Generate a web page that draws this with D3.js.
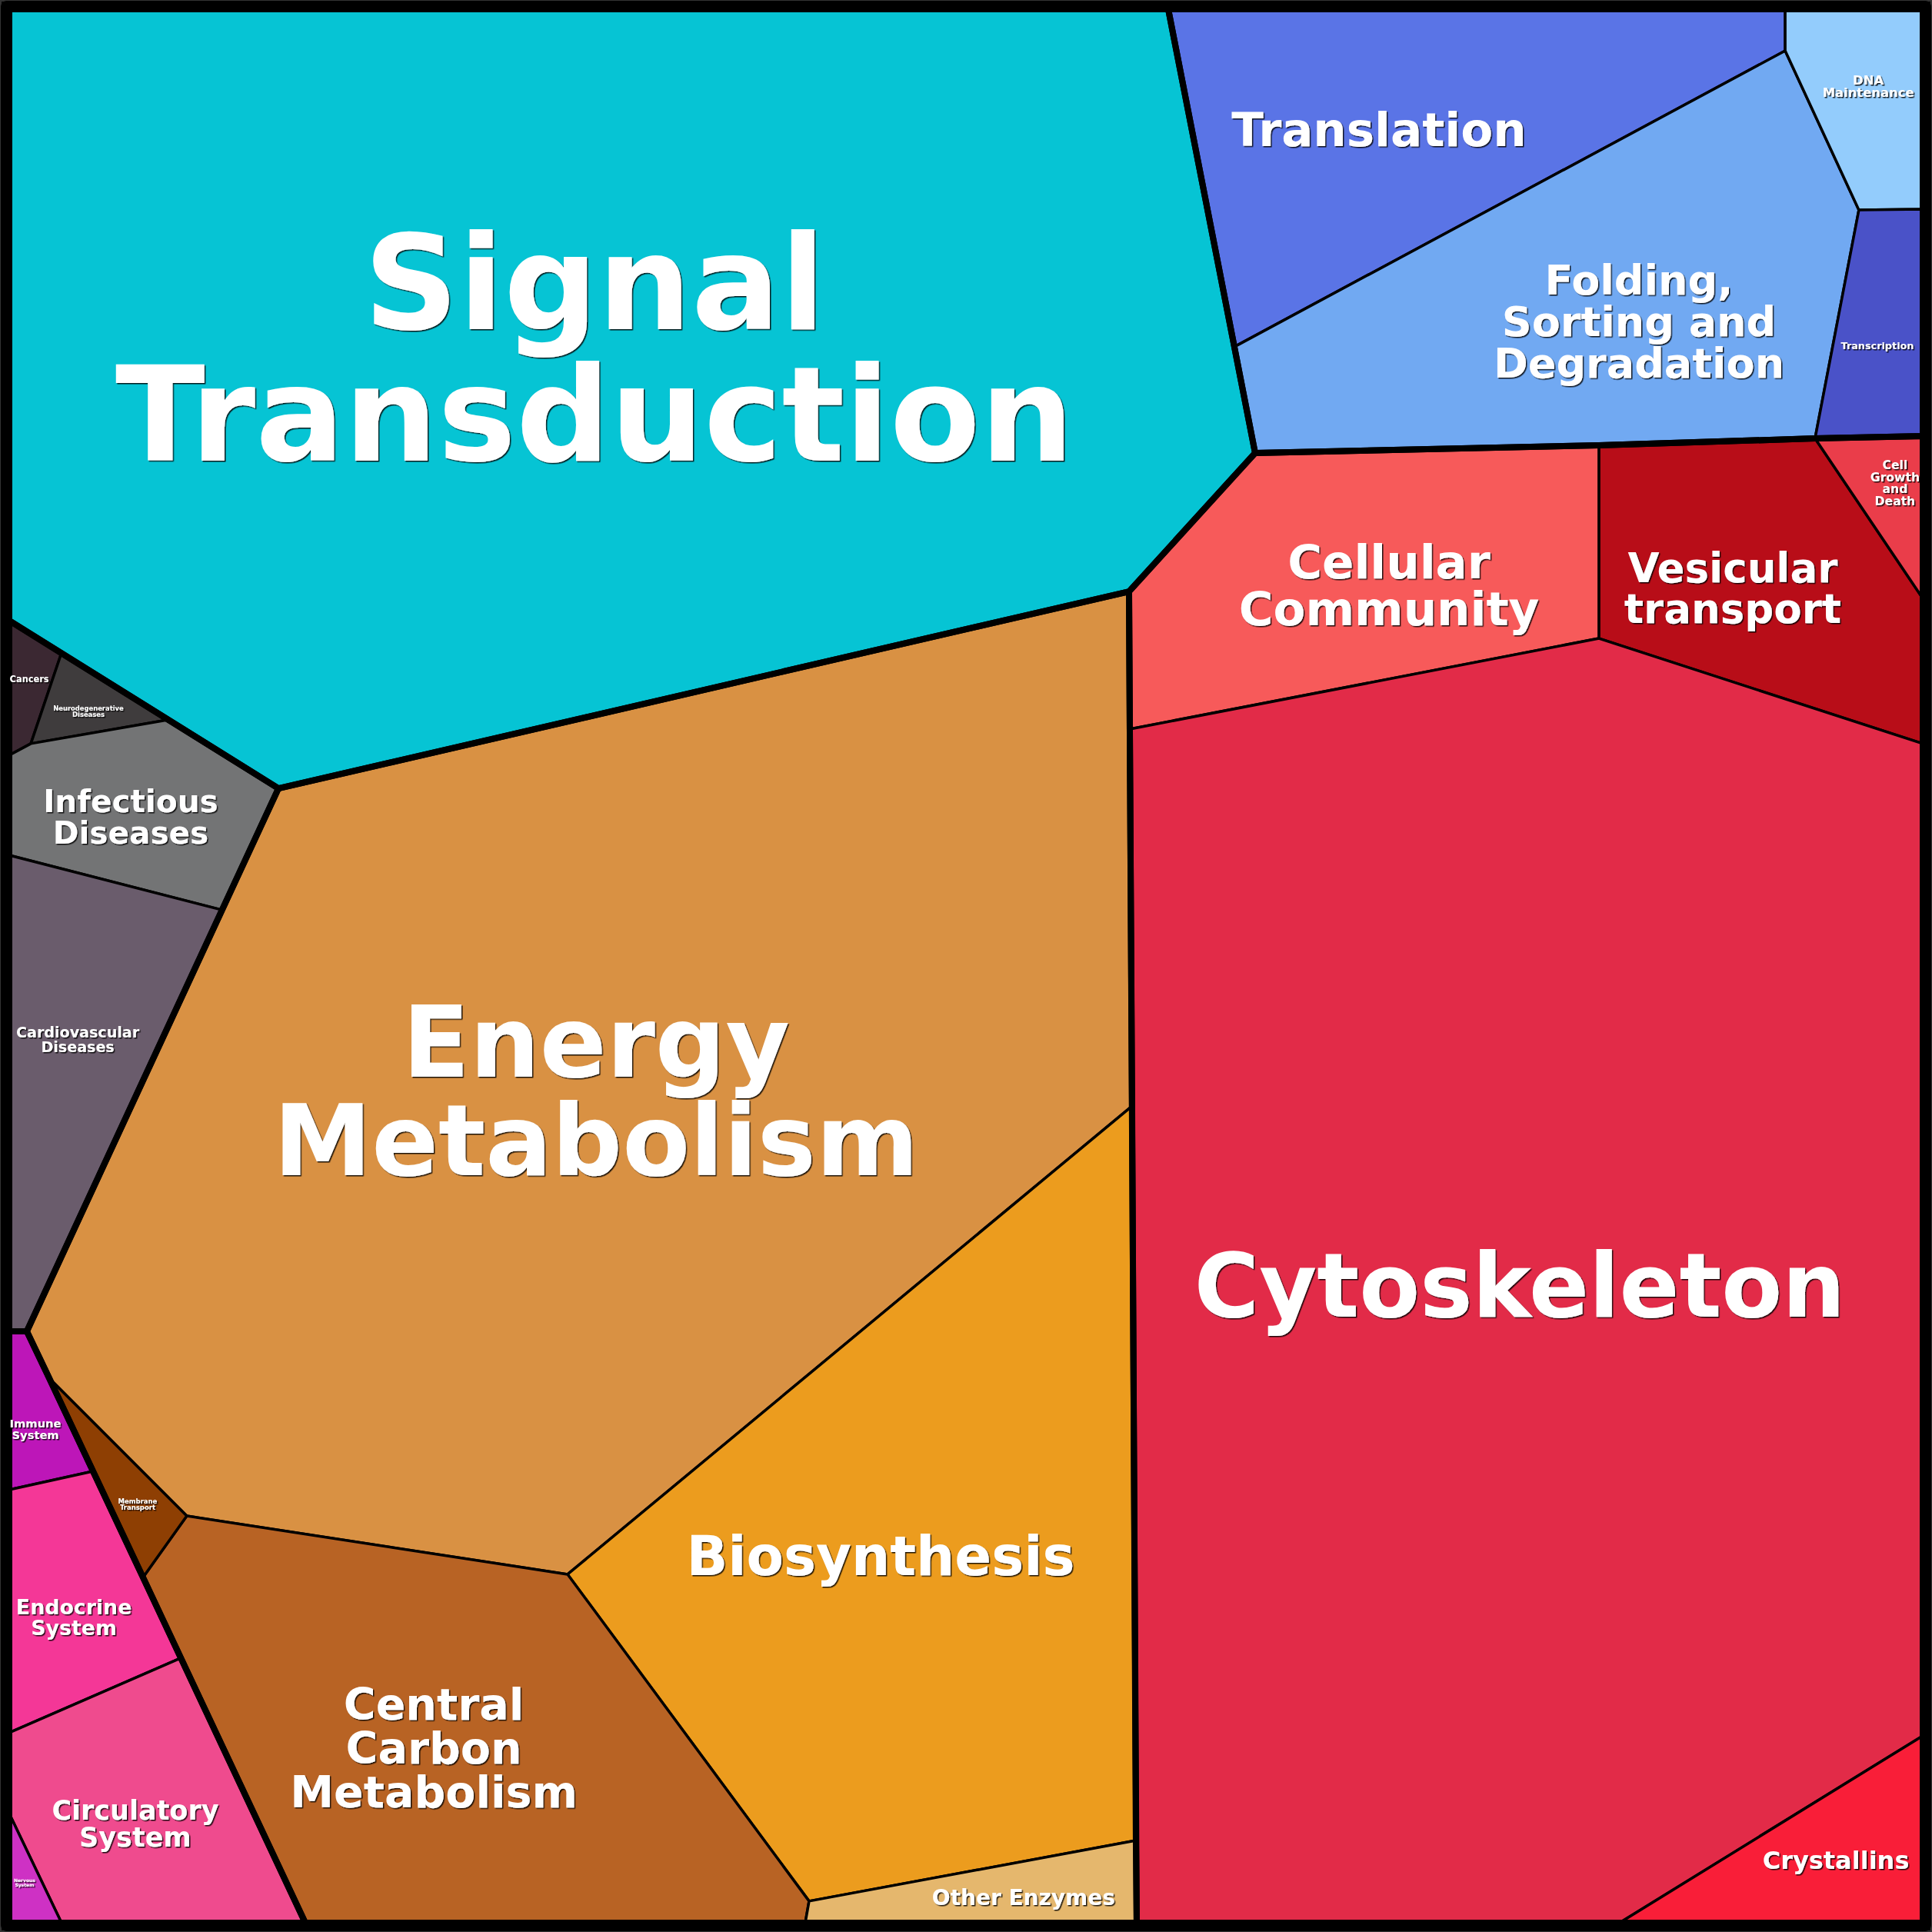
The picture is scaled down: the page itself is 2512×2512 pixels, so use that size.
<!DOCTYPE html>
<html>
<head>
<meta charset="utf-8">
<script src="https://cdn.jsdelivr.net/npm/d3@7"></script>
<style>
  html, body { margin: 0; padding: 0; background: #fff; }
</style>
</head>
<body>
<div id="chart"></div>
<script>
// voronoi treemap, layout computed offline; units are a 0-1000 square
var groups = ["Environmental", "Genetic", "Cellular", "Metabolism", "Diseases", "Organismal"];

var categories = [
  "Signal\nTransduction", "Translation", "Folding,\nSorting and\nDegradation", "DNA\nMaintenance", "Transcription",
  "Cellular\nCommunity", "Vesicular\ntransport", "Cell\nGrowth\nand\nDeath", "Cytoskeleton", "Crystallins",
  "Energy\nMetabolism", "Biosynthesis", "Central\nCarbon\nMetabolism", "Membrane\nTransport", "Other Enzymes",
  "Cancers", "Neurodegenerative\nDiseases", "Infectious\nDiseases", "Cardiovascular\nDiseases",
  "Immune\nSystem", "Endocrine\nSystem", "Circulatory\nSystem", "Nervous\nSystem"
];
var categoryGroup = [0, 1, 1, 1, 1, 2, 2, 2, 2, 2, 3, 3, 3, 3, 3, 4, 4, 4, 4, 5, 5, 5, 5];

// layout vertices [id, x, y]
var vertices = [
  ["TL", 0, 0], ["TR", 1000, 0], ["BR", 1000, 1000], ["BL", 0, 1000],
  ["s1", 605.7, 0], ["s2", 651.1, 231.9], ["s3", 585.2, 304.3], ["s4", 140.7, 407.2], ["s5", 0, 319.5],
  ["d1", 27.3, 336.4], ["d2", 11.3, 383.8], ["d3", 0, 389.9], ["d4", 82.8, 371.4],
  ["d5", 111.2, 470.7], ["d6", 0, 442.1], ["d7", 0, 690.9], ["e1", 9.2, 690.9],
  ["m1", 20.9, 715.4], ["m2", 92.8, 787.4], ["m3", 69.9, 819.5],
  ["e2", 291.8, 817.9], ["e3", 586.8, 573.2],
  ["o1", 418.0, 988.7], ["o2", 416.0, 1000], ["o3", 588.8, 957.0], ["o4", 589.2, 1000],
  ["p1", 154.7, 1000], ["p2", 43.7, 764.1], ["p3", 0, 773.7], ["p4", 89.6, 861.7],
  ["p5", 0, 900.7], ["p6", 0, 942.9], ["p7", 27.3, 1000],
  ["t1", 640.3, 176.4], ["t2", 928.1, 0], ["t3", 928.1, 21.7], ["t4", 966.6, 104.9],
  ["t5", 1000, 104.5], ["t6", 943.7, 224.3], ["t7", 1000, 223.1],
  ["r1", 830.8, 227.9], ["r2", 830.8, 328.8], ["r3", 585.6, 376.2], ["r4", 1000, 307.9],
  ["r5", 1000, 383.8], ["r6", 1000, 902.3], ["r7", 841.6, 1000]
];

var cellVertices = [
  ["TL", "s1", "s2", "s3", "s4", "s5"],
  ["s1", "t2", "t3", "t1"],
  ["t1", "t3", "t4", "t6", "s2"],
  ["t2", "TR", "t5", "t4", "t3"],
  ["t4", "t5", "t7", "t6"],
  ["s2", "r1", "r2", "r3", "s3"],
  ["r1", "t6", "r4", "r5", "r2"],
  ["t6", "t7", "r4"],
  ["r3", "r2", "r5", "r6", "r7", "o4"],
  ["r6", "BR", "r7"],
  ["s4", "s3", "e3", "e2", "m2", "m1", "e1"],
  ["e2", "e3", "o3", "o1"],
  ["m2", "e2", "o1", "o2", "p1", "m3"],
  ["m1", "m2", "m3"],
  ["o1", "o3", "o4", "o2"],
  ["s5", "d1", "d2", "d3"],
  ["d1", "d4", "d2"],
  ["d3", "d2", "d4", "s4", "d5", "d6"],
  ["d6", "d5", "e1", "d7"],
  ["d7", "e1", "p2", "p3"],
  ["p3", "p2", "p4", "p5"],
  ["p5", "p4", "p1", "p7", "p6"],
  ["p6", "p7", "BL"]
];

var groupVertices = [
  ["TL", "s1", "s2", "s3", "s4", "s5"],
  ["s1", "TR", "t7", "t6", "r1", "s2"],
  ["s2", "r1", "t6", "t7", "BR", "o4", "r3", "s3"],
  ["s4", "s3", "r3", "e3", "o3", "o4", "p1", "m3", "m1", "e1"],
  ["s5", "s4", "d5", "e1", "d7"],
  ["d7", "e1", "m1", "m3", "p1", "BL"]
];

// voronoi sites (label anchors)
var siteX = [305.9, 715.8, 851.7, 971.5, 976.3, 721.1, 900.7, 985.5, 789.4, 954.6,
             306.7, 455.4, 221.9, 67.1, 530.1, 10.5, 41.4, 63.5, 35.8, 13.7, 33.8, 65.9, 8.0];
var siteY = [176.8, 62.7, 163.2, 40.2, 175.6, 301.0, 302.3, 247.6, 666.8, 967.4,
             565.1, 808.3, 908.4, 781.4, 986.7, 350.1, 367.0, 422.0, 538.6, 742.0, 840.4, 948.2, 979.1];

// styles
var cellColor = ["#06c4d4", "#5a74e6", "#71a9f2", "#93ccfc", "#4a52c8",
                 "#f75a5a", "#b80d18", "#ea3d4a", "#e22b48", "#f91e38",
                 "#d99143", "#ec9c1e", "#b86324", "#8e3f03", "#e5b76d",
                 "#3b2832", "#3f3c3d", "#737475", "#6a5c6c",
                 "#bd16b8", "#f43797", "#ef4b8e", "#ce31c4"];
var labelSize = [171, 61, 54, 16.4, 12.8, 61, 53, 15.6, 115, 32,
                 128, 70.6, 57, 8.5, 28, 11.4, 8.4, 40.6, 19.1, 14.7, 26.8, 35, 6];

var size = 2512, pad = 12;

var x = d3.scaleLinear().domain([0, 1000]).range([pad, size - pad]);
var y = d3.scaleLinear().domain([0, 1000]).range([pad, size - pad]);

var vmap = {};
vertices.forEach(function(v) { vmap[v[0]] = [v[1], v[2]]; });

function toPoints(ids) {
  return ids.map(function(id) { return [x(vmap[id][0]), y(vmap[id][1])]; });
}

var line = d3.line().curve(d3.curveLinearClosed);

var svg = d3.select("#chart").append("svg")
  .attr("width", size)
  .attr("height", size)
  .style("display", "block");

var defs = svg.append("defs");
defs.append("filter")
  .attr("id", "shadow")
  .attr("x", "-10%").attr("y", "-10%")
  .attr("width", "120%").attr("height", "120%")
  .append("feDropShadow")
  .attr("dx", 1.5)
  .attr("dy", 1.5)
  .attr("stdDeviation", 0.6)
  .attr("flood-color", "#000")
  .attr("flood-opacity", 0.85);

svg.append("rect")
  .attr("width", size)
  .attr("height", size)
  .attr("fill", "#333");

svg.append("rect")
  .attr("x", 1)
  .attr("y", 1)
  .attr("width", size - 2)
  .attr("height", size - 2)
  .attr("rx", 8)
  .attr("fill", "#000");

var cells = categories.map(function(name, i) {
  return { name: name, group: categoryGroup[i], pts: toPoints(cellVertices[i]),
           sx: x(siteX[i]), sy: y(siteY[i]), fs: labelSize[i], color: cellColor[i] };
});

var cellLayer = svg.append("g");

cellLayer.selectAll("path")
  .data(cells)
  .enter()
  .append("path")
  .attr("d", function(d) { return line(d.pts); })
  .attr("fill", function(d) { return d.color; })
  .attr("stroke", "#000")
  .attr("stroke-width", 3.5)
  .attr("stroke-linejoin", "round");

svg.append("g").selectAll("path")
  .data(groups)
  .enter()
  .append("path")
  .attr("d", function(d, i) { return line(toPoints(groupVertices[i])); })
  .attr("fill", "none")
  .attr("stroke", "#000")
  .attr("stroke-width", 8)
  .attr("stroke-linejoin", "round");

// inner frame edge
svg.append("rect")
  .attr("x", pad / 2 + 1)
  .attr("y", pad / 2 + 1)
  .attr("width", size - pad - 2)
  .attr("height", size - pad - 2)
  .attr("fill", "none")
  .attr("stroke", "#000")
  .attr("stroke-width", pad - 2);

var labels = svg.append("g")
  .attr("filter", "url(#shadow)")
  .selectAll("text")
  .data(cells)
  .enter()
  .append("text")
  .attr("text-anchor", "middle")
  .attr("font-family", "'DejaVu Sans', sans-serif")
  .attr("font-weight", "bold")
  .attr("font-size", function(d) { return d.fs; })
  .attr("fill", "#fff");

labels.each(function(d) {
  var lines = d.name.split("\n");
  d3.select(this).selectAll("tspan")
    .data(lines)
    .enter()
    .append("tspan")
    .attr("x", d.sx)
    .attr("y", function(l, k) {
      return d.sy + (k - (lines.length - 1) / 2) * d.fs + 0.36 * d.fs;
    })
    .text(function(l) { return l; });
});
</script>
</body>
</html>
